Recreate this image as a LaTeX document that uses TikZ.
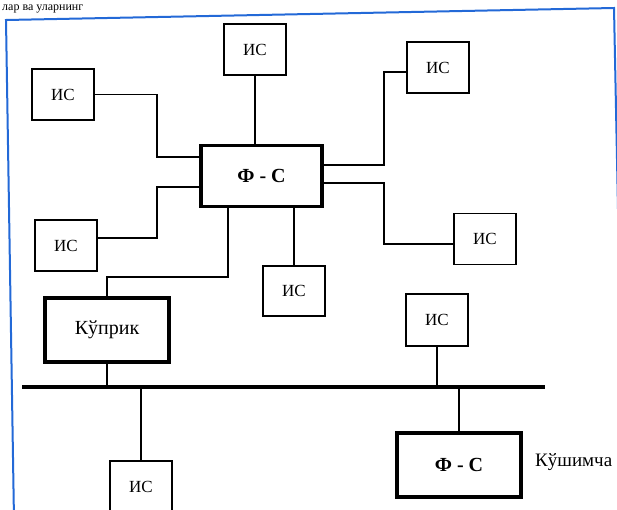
\documentclass[tikz,border=0pt]{standalone}
\usepackage{fontspec}
\setmainfont{Liberation Serif}
\definecolor{scanblue}{RGB}{35,105,215}
\tikzset{
    isbox/.style={draw, line width=1.5pt, minimum width=62pt, minimum height=51pt, inner sep=0pt, font=\fontsize{17}{19}\selectfont},
    bigbox/.style={draw, line width=3.5pt, minimum width=121pt, minimum height=61pt, inner sep=0pt},
    wire/.style={line width=1.2pt},
    bus/.style={line width=4pt},
    frame/.style={scanblue, line width=2pt}
}
\begin{document}
\begin{tikzpicture}[x=1pt, y=-1pt]
            \useasboundingbox (0,0) rectangle (617,509);
            \clip (0,0) rectangle (617,509);
            \node[anchor=base west, inner sep=0pt, font=\fontsize{12}{13}\selectfont] (toptext) at (2,10) {лар ва уларнинг};
            \draw[frame] (14,520) -- (6,20) -- (614,8) -- (619,260);
            % central server and its workstations
            \node[bigbox, font=\bfseries\fontsize{20}{22}\selectfont] (fs1) at (261.5,176) {Ф - С};
            \node[isbox] (is1) at (255,49.5) {ИС};
            \node[isbox] (is2) at (63,94.5) {ИС};
            \node[isbox] (is3) at (438,67.5) {ИС};
            \node[isbox] (is4) at (66,245.5) {ИС};
            \node[isbox] (is5) at (485,239) {ИС};
            \node[isbox, minimum height=50pt] (is6) at (294,291) {ИС};
            \draw[wire] (is1.south) -- (is1.south |- fs1.north);
            \draw[wire] (is2.east) -| (157,157) -- (fs1.west |- 0,157);
            \draw[wire] (is4.east |- 0,238) -| (157,187) -- (fs1.west |- 0,187);
            \draw[wire] (fs1.east |- 0,165) -| (384,72) -- (is3.west |- 0,72);
            \draw[wire] (fs1.east |- 0,183) -| (384,244) -- (is5.west |- 0,244);
            \draw[wire] (fs1.south -| is6.north) -- (is6.north);
            % bridge and second segment
            \node[bigbox, minimum width=124pt, minimum height=64pt, font=\fontsize{20}{22}\selectfont] (bridge) at (107,330) {Кўприк};
            \draw[wire] (fs1.south -| 228,0) |- (107,277) -- (bridge.north);
            \coordinate (busw) at (22,387);
            \coordinate (buse) at (545,387);
            \draw[bus] (busw) -- (buse);
            \node[isbox, minimum height=52pt] (is7) at (437,320) {ИС};
            \node[isbox] (is8) at (141,486.5) {ИС};
            \node[bigbox, minimum width=124pt, minimum height=64pt, font=\bfseries\fontsize{20}{22}\selectfont] (fs2) at (459,465) {Ф - С};
            \node[anchor=west, inner sep=0pt, font=\fontsize{19}{21}\selectfont] (extra) at (535,462) {Кўшимча};
            \draw[wire] (bridge.south) -- (bridge.south |- busw);
            \draw[wire] (is7.south) -- (is7.south |- busw);
            \draw[wire] (is8.north |- busw) -- (is8.north);
            \draw[wire] (fs2.north |- busw) -- (fs2.north);
\end{tikzpicture}
\end{document}
